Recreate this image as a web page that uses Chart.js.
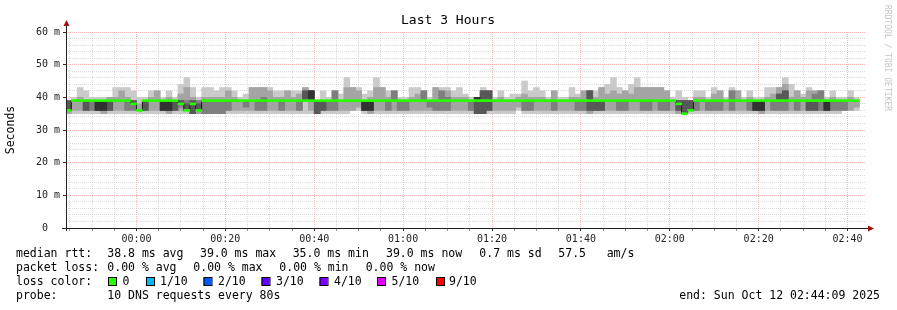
<!DOCTYPE html>
<html>
<head>
<meta charset="utf-8">
<script src="https://cdn.jsdelivr.net/npm/chart.js@4.4.1/dist/chart.umd.min.js"></script>
<style>
  html, body { margin: 0; padding: 0; background: #fff; }
  #chart { display: block; }
</style>
</head>
<body>
<canvas id="chart" width="897" height="310"></canvas>
<script>
// smokeping graph: 10 DNS pings every 80 s, values in ms, sorted per sample
// sample i is centred on firstSample + i*step seconds from 00:00
var step = 80;
var firstSample = -920;
var axisStart = -951;   // 23:44:09
var axisEnd = 9849;     // 02:44:09

var ping1 = [
  35,35,35,35,35,35,35,35,35,35, 35,35,35,35,35,35,35,35,35,35,
  35,35,35,35,35,35,35,35,35,35, 35,35,35,35,35,35,35,35,35,35,
  35,35,35,35,35,35,35,35,36,36, 35,35,35,35,35,35,35,35,35,35,
  35,35,35,35,35,35,35,35,35,35, 35,35,35,35,35,35,36,35,35,35,
  35,35,35,35,35,35,35,35,35,35, 35,35,35,35,35,35,35,35,35,35,
  35,35,35,35,35,35,35,35,35,35, 35,35,35,35,35,35,35,35,35,35,
  35,35,35,35,35,35,35,35,35,35, 35,36,36,36
];
var ping2 = [
  35,36,36,36,36,36,35,36,36,36, 36,36,36,36,36,36,36,35,36,36,
  36,35,35,35,35,35,35,36,36,36, 36,36,36,36,36,36,36,36,36,36,
  39,36,35,36,36,36,36,36,36,37, 36,35,36,36,36,36,36,36,36,36,
  36,36,36,36,36,36,36,36,36,35, 35,36,36,36,36,36,37,36,36,36,
  36,36,36,36,36,36,36,36,35,36, 36,36,36,36,36,36,36,36,36,36,
  36,36,36,35,35,36,36,36,36,36, 36,36,36,36,36,36,36,35,36,36,
  36,36,36,36,36,36,36,36,36,36, 36,36,36,37
];
var ping3 = [
  36,39,39,36,36,36,36,36,39,39, 36,36,36,36,39,39,36,36,36,37,
  36,35,36,35,35,35,35,36,39,39, 37,39,36,36,39,39,36,39,39,36,
  39,39,35,36,36,36,39,39,39,39, 36,36,39,39,36,39,36,36,39,39,
  39,37,36,36,36,39,39,39,36,35, 35,36,39,39,39,39,39,36,36,39,
  39,39,36,39,39,39,36,36,36,36, 36,39,39,36,36,39,39,36,36,39,
  36,36,39,36,35,36,36,39,36,36, 36,39,36,39,39,36,36,36,39,36,
  36,36,39,36,39,36,36,36,36,36, 36,36,39,39
];
var ping4 = [
  36,39,39,36,39,36,36,36,39,39, 39,38,36,36,39,39,36,36,36,38,
  36,35,36,39,39,39,39,39,39,39, 39,39,39,39,39,39,39,39,39,39,
  39,39,35,36,39,39,39,39,39,39, 36,36,39,39,39,39,39,39,39,39,
  39,39,39,39,39,39,39,39,39,35, 35,36,39,39,39,39,39,39,39,39,
  39,39,39,39,39,39,39,39,36,36, 36,39,39,39,39,39,39,39,39,39,
  39,39,39,36,35,36,39,39,39,39, 39,39,39,39,39,39,36,36,39,39,
  39,39,39,39,39,36,36,39,36,39, 39,39,39,39
];
var ping5 = [
  39,39,39,39,39,36,36,39,39,39, 39,38,36,39,39,39,36,36,39,38,
  36,38,36,39,39,39,39,39,39,39, 39,39,39,39,39,39,39,39,39,39,
  39,39,39,39,39,39,39,39,39,39, 36,36,39,39,39,39,39,39,39,39,
  39,39,39,39,39,39,39,39,39,39, 39,39,39,39,39,39,39,39,39,39,
  39,39,39,39,39,39,39,39,39,39, 39,39,39,39,39,39,39,39,39,39,
  39,39,39,38,35,36,39,39,39,39, 39,39,39,39,39,39,36,36,39,39,
  39,39,39,39,39,39,39,39,36,39, 39,39,39,39
];
var ping6 = [
  39,39,39,39,39,39,39,39,39,39, 39,38,36,39,39,39,39,39,39,38,
  36,38,36,39,39,39,39,39,39,39, 39,39,39,39,39,39,39,39,39,39,
  39,42,39,39,39,39,39,39,39,39, 39,39,39,39,39,39,39,39,39,39,
  39,39,39,39,39,39,39,39,39,40, 39,39,39,39,39,39,39,39,39,39,
  39,39,39,39,39,39,39,39,39,39, 39,39,39,39,39,39,39,39,39,39,
  39,39,39,38,35,36,39,39,39,39, 39,39,39,39,39,39,39,39,39,39,
  39,39,39,39,39,39,39,39,39,39, 39,39,39,39
];
var ping7 = [
  39,39,39,39,39,39,39,39,39,39, 39,39,36,39,39,39,39,39,39,39,
  38,39,38,39,39,39,39,39,39,39, 39,39,39,39,39,39,39,39,39,39,
  42,42,39,39,39,39,39,39,39,39, 39,39,39,39,39,39,39,39,39,39,
  39,39,39,39,39,39,39,39,39,40, 42,42,39,39,39,39,39,39,39,39,
  39,39,39,39,39,39,39,39,42,39, 39,39,39,39,39,39,39,39,39,39,
  39,39,39,39,39,39,39,39,39,39, 39,39,39,39,39,39,39,39,39,39,
  41,42,39,39,39,39,39,39,39,39, 39,39,39,39
];
var ping8 = [
  39,39,39,39,39,39,39,39,39,39, 39,39,36,39,39,39,39,39,39,39,
  39,39,39,39,39,39,39,39,39,39, 39,39,39,40,39,39,39,39,39,39,
  42,42,39,39,39,42,39,39,39,39, 39,39,39,39,39,42,39,39,39,39,
  42,39,39,42,40,39,39,39,39,40, 42,42,39,39,39,39,39,39,39,39,
  39,39,39,39,39,39,39,39,42,39, 39,39,39,39,39,39,39,39,39,39,
  39,39,39,39,39,39,39,39,39,39, 39,39,42,39,39,39,39,39,39,39,
  41,42,39,39,39,39,41,42,39,39, 39,39,39,39
];
var ping9 = [
  39,39,40,39,39,39,39,40,40,42, 40,39,38,39,40,42,39,40,39,41,
  43,40,39,40,40,40,40,42,40,39, 39,43,43,43,42,40,40,42,40,41,
  43,42,39,39,39,42,39,43,43,42, 39,40,43,43,40,42,39,39,40,41,
  42,39,43,42,42,40,40,40,39,40, 42,42,39,40,39,39,40,41,40,40,
  40,39,42,39,39,40,40,42,42,40, 43,41,42,41,42,41,43,43,43,43,
  43,42,39,39,39,39,40,40,39,41, 42,39,42,42,39,40,39,39,40,41,
  43,44,40,42,40,42,42,42,39,40, 39,39,40,39
];
var ping10 = [
  39,40,43,42,40,40,40,40,43,43, 43,42,40,40,42,42,40,42,40,44,
  46,43,40,43,43,42,43,43,42,40, 41,43,43,43,43,42,42,42,42,42,
  43,42,39,42,40,42,41,46,43,43, 41,42,46,43,42,42,40,40,43,43,
  42,40,43,43,43,42,43,41,40,40, 43,42,40,42,40,41,41,45,42,43,
  42,40,42,40,40,43,41,42,42,42, 43,44,46,43,42,44,46,43,43,43,
  43,42,40,42,40,39,42,42,40,43, 42,40,43,42,40,42,40,40,43,43,
  43,46,44,42,41,43,42,42,40,42, 40,40,42,40
];
var median = [
  36,39,39,39,39,39,39,39,39,39, 39,38,36,39,39,39,39,39,39,38,
  36,38,36,39,39,39,39,39,39,39, 39,39,39,39,39,39,39,39,39,39,
  39,39,39,39,39,39,39,39,39,39, 39,39,39,39,39,39,39,39,39,39,
  39,39,39,39,39,39,39,39,39,39, 39,39,39,39,39,39,39,39,39,39,
  39,39,39,39,39,39,39,39,39,39, 39,39,39,39,39,39,39,39,39,39,
  39,39,39,38,35,36,39,39,39,39, 39,39,39,39,39,39,39,39,39,39,
  39,39,39,39,39,39,39,39,39,39, 39,39,39,39
];

var titleText = 'Last 3 Hours';
var rttStats = ['38.8 ms avg', '39.0 ms max', '35.0 ms min', '39.0 ms now', '0.7 ms sd', '57.5', 'am/s'];
var lossStats = ['0.00 % avg', '0.00 % max', '0.00 % min', '0.00 % now'];
var lossLabels = ['0', '1/10', '2/10', '3/10', '4/10', '5/10', '9/10'];
var lossColors = ['#26ff00', '#00b8ff', '#0059ff', '#5e00ff', '#7e00ff', '#dd00ff', '#ff0000'];
var probeText = '10 DNS requests every 80s';
var endText = 'end: Sun Oct 12 02:44:09 2025';

var smokeShades = ['#cacaca', '#a4a4a4', '#7e7e7e', '#585858', '#323232'];
var pings = [ping1, ping2, ping3, ping4, ping5, ping6, ping7, ping8, ping9, ping10];
var MONO = '"DejaVu Sans Mono", monospace';
var GRID_MINOR = 'rgba(195,195,195,0.6)';
var GRID_MAJOR = 'rgba(255,110,110,0.5)';

function sampleTime(i) { return firstSample + i * step; }

function pad2(n) { return (n < 10 ? '0' : '') + n; }
function clock(sec) {
  var m = Math.round(sec / 60);
  m = ((m % 1440) + 1440) % 1440;
  return pad2(Math.floor(m / 60)) + ':' + pad2(m % 60);
}

var datasets = [];
// smoke: band k spans ping k .. ping (11-k), darker towards the middle
for (var k = 0; k < 5; k++) {
  (function (lo, hi, shade, ord) {
    datasets.push({
      type: 'bar',
      data: lo.map(function (v, i) {
        return { x: sampleTime(i), y: hi[i] > v ? [v, hi[i]] : null };
      }),
      backgroundColor: shade,
      borderWidth: 0,
      grouped: false,
      barPercentage: 1,
      categoryPercentage: 1,
      order: ord
    });
  })(pings[k], pings[9 - k], smokeShades[k], 10 - k);
}
// median rtt: dark step joins, loss colour on the flat parts
datasets.push({
  type: 'line',
  data: median.map(function (v, i) { return { x: sampleTime(i), y: v }; }),
  stepped: 'middle',
  borderColor: '#1a1a1a',
  borderWidth: 1,
  pointRadius: 0,
  order: 2
});
datasets.push({
  type: 'bar',
  data: median.map(function (v, i) { return { x: sampleTime(i), y: [v - 0.3, v + 0.3] }; }),
  backgroundColor: lossColors[0],
  borderWidth: 0,
  grouped: false,
  barPercentage: 1,
  categoryPercentage: 1,
  order: 1
});

var rrdDecor = {
  id: 'rrdDecor',
  afterDraw: function (chart) {
    var ctx = chart.ctx, a = chart.chartArea;
    ctx.save();

    ctx.fillStyle = '#000';
    ctx.font = '13px ' + MONO;
    ctx.textAlign = 'center';
    ctx.textBaseline = 'alphabetic';
    ctx.fillText(titleText, 448, 24);

    // axes with arrows
    ctx.strokeStyle = '#222';
    ctx.lineWidth = 1;
    ctx.beginPath();
    ctx.moveTo(a.left - 4, a.bottom + 0.5);
    ctx.lineTo(a.right + 3, a.bottom + 0.5);
    ctx.moveTo(a.left + 0.5, a.bottom + 3);
    ctx.lineTo(a.left + 0.5, a.top - 6);
    ctx.stroke();
    ctx.fillStyle = '#a01010';
    ctx.beginPath();
    ctx.moveTo(a.right + 2, a.bottom - 2.5);
    ctx.lineTo(a.right + 8, a.bottom + 0.5);
    ctx.lineTo(a.right + 2, a.bottom + 3.5);
    ctx.fill();
    ctx.beginPath();
    ctx.moveTo(a.left - 2.5, a.top - 6);
    ctx.lineTo(a.left + 0.5, a.top - 12);
    ctx.lineTo(a.left + 3.5, a.top - 6);
    ctx.fill();

    // watermark
    ctx.save();
    ctx.fillStyle = '#c4c4c4';
    ctx.font = '8px ' + MONO;
    ctx.textAlign = 'left';
    ctx.textBaseline = 'middle';
    ctx.translate(887, 5);
    ctx.rotate(Math.PI / 2);
    ctx.fillText('RRDTOOL / TOBI OETIKER', 0, 0);
    ctx.restore();

    // legend block
    ctx.fillStyle = '#000';
    ctx.font = '11.5px ' + MONO;
    ctx.textAlign = 'left';
    ctx.textBaseline = 'alphabetic';
    var rttX = [107.3, 200, 292.7, 386, 479.3, 558.3, 606.7];
    ctx.fillText('median rtt:', 16, 257);
    rttStats.forEach(function (s, i) { ctx.fillText(s, rttX[i], 257); });
    var lossX = [107.3, 193.3, 279.3, 365.7];
    ctx.fillText('packet loss:', 16, 271);
    lossStats.forEach(function (s, i) { ctx.fillText(s, lossX[i], 271); });
    var boxX = [108, 146, 203.5, 261.5, 319.5, 377, 436];
    var labX = [122.5, 160, 218, 276, 334, 391.5, 449];
    ctx.fillText('loss color:', 16, 285);
    lossLabels.forEach(function (s, i) {
      ctx.fillStyle = lossColors[i];
      ctx.fillRect(boxX[i], 277.5, 8, 8);
      ctx.strokeStyle = '#000';
      ctx.strokeRect(boxX[i] + 0.5, 277.5, 8, 8);
      ctx.fillStyle = '#000';
      ctx.fillText(s, labX[i], 285);
    });
    ctx.fillText('probe:', 16, 299);
    ctx.fillText(probeText, 107.3, 299);
    ctx.textAlign = 'right';
    ctx.fillText(endText, 880, 299);
    ctx.restore();
  }
};

new Chart(document.getElementById('chart'), {
  type: 'bar',
  data: { datasets: datasets },
  plugins: [rrdDecor],
  options: {
    responsive: false,
    devicePixelRatio: 1,
    animation: false,
    events: [],
    layout: { padding: { top: 32, right: 31, bottom: 62, left: 0 } },
    plugins: {
      legend: { display: false },
      tooltip: { enabled: false },
      title: { display: false }
    },
    scales: {
      x: {
        type: 'linear',
        min: axisStart,
        max: axisEnd,
        offset: false,
        afterFit: function (s) { s.height = 20; },
        afterBuildTicks: function (s) {
          var t = [];
          for (var v = Math.ceil(s.min / 300) * 300; v <= s.max; v += 300) t.push({ value: v });
          s.ticks = t;
        },
        ticks: {
          autoSkip: false,
          maxRotation: 0,
          minRotation: 0,
          padding: 2,
          color: '#222',
          font: { family: MONO, size: 10 },
          callback: function (v) { return v % 1200 === 0 ? clock(v) : ''; }
        },
        grid: {
          offset: false,
          lineWidth: 1,
          tickLength: 3,
          tickColor: function (c) {
            return c.tick && c.tick.value % 1200 === 0 ? '#333' : '#999';
          },
          color: function (c) {
            return c.tick && c.tick.value % 1200 === 0 ? GRID_MAJOR : GRID_MINOR;
          }
        },
        border: { display: false, dash: [1, 1] }
      },
      y: {
        type: 'linear',
        min: 0,
        max: 60,
        afterFit: function (s) { s.width = 66; },
        afterBuildTicks: function (s) {
          var t = [];
          for (var v = 0; v <= 60; v += 2) t.push({ value: v });
          s.ticks = t;
        },
        ticks: {
          autoSkip: false,
          padding: 3,
          color: '#222',
          font: { family: MONO, size: 10 },
          callback: function (v) {
            if (v % 10 !== 0) return '';
            return v === 0 ? '0  ' : v + ' m';
          }
        },
        grid: {
          lineWidth: 1,
          tickLength: 3,
          tickColor: function (c) {
            return c.tick && c.tick.value % 10 === 0 ? '#333' : 'rgba(0,0,0,0)';
          },
          color: function (c) {
            return c.tick && c.tick.value % 10 === 0 ? GRID_MAJOR : GRID_MINOR;
          }
        },
        border: { display: false, dash: [1, 1] },
        title: {
          display: true,
          text: 'Seconds',
          color: '#000',
          font: { family: MONO, size: 11.5 },
          padding: { top: 4, bottom: 0 }
        }
      }
    }
  }
});
</script>
</body>
</html>
